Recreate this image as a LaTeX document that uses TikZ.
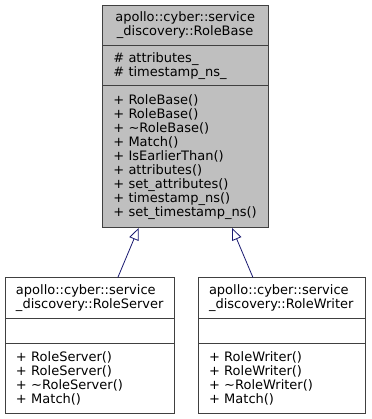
\documentclass[tikz,border=0pt]{standalone}
\usepackage{fontspec}
\setmainfont{DejaVu Sans}
\usetikzlibrary{arrows.meta,positioning,fit}
\definecolor{edgeblue}{HTML}{191970}
\definecolor{basefill}{HTML}{BFBFBF}
\definecolor{boxline}{HTML}{404040}

\begin{document}
\begin{tikzpicture}[x=1pt,y=-1pt,
  font=\fontsize{13}{14}\selectfont,
  part/.style={draw=boxline,line width=0.9pt,outer sep=0pt,inner xsep=11pt,inner ysep=0pt},
  ttl/.style={part,minimum height=40.5pt},
  mem/.style={part,align=left},
  inh/.style={draw=edgeblue,line width=0.8pt,-{Triangle[open,length=12pt,width=10pt]}}]
\useasboundingbox (0,0) rectangle (371,419);
% base class
\node[ttl,fill=basefill,align=center,text width=143.7pt,anchor=north west] (baseT) at (102.3,5) {apollo::cyber::service\\\_discovery::RoleBase};
\node[mem,fill=basefill,text width=143.7pt,minimum height=40.3pt,below=0pt of baseT] (baseA) {\# attributes\_\\\# timestamp\_ns\_};
\node[mem,fill=basefill,text width=143.7pt,minimum height=142pt,below=0pt of baseA] (baseM) {+ RoleBase()\\+ RoleBase()\\+ \textasciitilde RoleBase()\\+ Match()\\+ IsEarlierThan()\\+ attributes()\\+ set\_attributes()\\+ timestamp\_ns()\\+ set\_timestamp\_ns()};
\node[fit=(baseT)(baseM),inner sep=0pt] (base) {};
% derived classes
\node[ttl,align=left,text width=147pt,anchor=north west] (srvT) at (5,277.7) {apollo::cyber::service\\\_discovery::RoleServer};
\node[mem,text width=147pt,minimum height=25pt,below=0pt of srvT] (srvA) {};
\node[mem,text width=147pt,minimum height=70pt,below=0pt of srvA] (srvM) {+ RoleServer()\\+ RoleServer()\\+ \textasciitilde RoleServer()\\+ Match()};
\node[fit=(srvT)(srvM),inner sep=0pt] (srv) {};
\node[ttl,align=left,text width=145pt,anchor=north west] (wrtT) at (198,277.7) {apollo::cyber::service\\\_discovery::RoleWriter};
\node[mem,text width=145pt,minimum height=25pt,below=0pt of wrtT] (wrtA) {};
\node[mem,text width=145pt,minimum height=70pt,below=0pt of wrtA] (wrtM) {+ RoleWriter()\\+ RoleWriter()\\+ \textasciitilde RoleWriter()\\+ Match()};
\node[fit=(wrtT)(wrtM),inner sep=0pt] (wrt) {};
% inheritance
\foreach \c in {srv,wrt} \draw[inh] (\c) -- (base);
\end{tikzpicture}
\end{document}
